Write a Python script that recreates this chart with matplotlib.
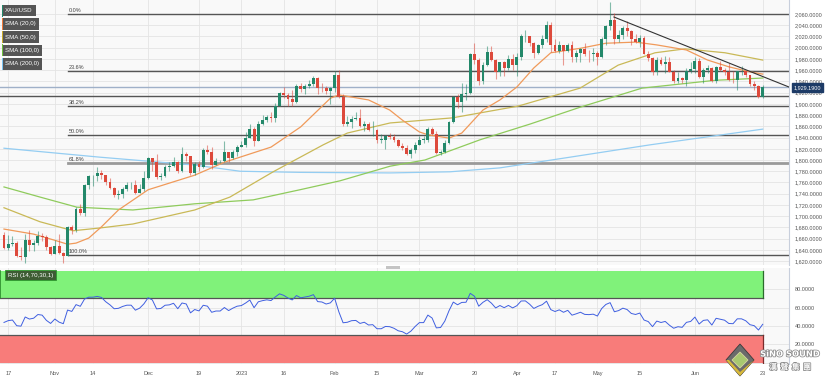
import matplotlib
matplotlib.use("Agg")
import matplotlib.pyplot as plt
import matplotlib.patches as mpatches
import matplotlib.patheffects as pe

# daily XAU/USD candles, 14 Oct 2022 .. 23 Jun 2023 (index = trading day)
first_open = 1666
close = [1644, 1650, 1652, 1629, 1627, 1657, 1649, 1652, 1665, 1663, 1645, 1633,
         1647, 1635, 1629, 1681, 1676, 1712, 1706, 1755, 1771, 1771, 1777, 1774, 1761, 1751, 1738, 1740, 1749, 1755, 1755, 1741, 1749, 1768,
         1803, 1797, 1769, 1771, 1787, 1789, 1797, 1781, 1810, 1807, 1777, 1793, 1788, 1817, 1814, 1792, 1798, 1798, 1814, 1804, 1815, 1824,
         1827, 1839, 1855, 1833, 1865, 1872, 1877, 1875, 1897, 1920, 1916, 1909, 1904, 1932, 1926, 1931, 1936, 1946, 1929, 1928, 1923, 1928,
         1951, 1912, 1865, 1867, 1873, 1874, 1861, 1865, 1853, 1854, 1836, 1836, 1842, 1841, 1835, 1825, 1821, 1811, 1817, 1827,
         1836, 1836, 1855, 1847, 1813, 1814, 1831, 1868, 1913, 1904, 1918, 1919, 1989, 1979, 1940, 1970, 1993, 1978, 1956, 1974, 1964, 1980, 1969,
         1984, 2020, 2021, 2008, 1990, 2004, 2015, 2040, 2004, 1995, 2005, 1994, 2005, 1983, 1990, 1998, 1989, 1988, 1990,
         1983, 2016, 2039, 2050, 2016, 2022, 2035, 2030, 2015, 2011, 2017, 1989, 1982, 1957, 1978, 1971, 1975, 1957, 1941, 1946, 1943, 1959, 1962,
         1977, 1948, 1961, 1963, 1940, 1965, 1961, 1957, 1943, 1942, 1958, 1958, 1951, 1936, 1932, 1913, 1929.19]
high = [1671, 1667, 1664, 1656, 1645, 1669, 1675, 1657, 1674, 1670, 1666, 1647,
        1658, 1669, 1636, 1682, 1685, 1716, 1722, 1758, 1773, 1774, 1787, 1782, 1774, 1768, 1752, 1746, 1752, 1760, 1761, 1764, 1757, 1780,
        1805, 1804, 1810, 1776, 1791, 1796, 1806, 1798, 1824, 1814, 1808, 1797, 1798, 1822, 1826, 1823, 1804, 1800, 1833, 1814, 1818, 1826,
        1834, 1850, 1865, 1858, 1870, 1881, 1881, 1886, 1902, 1922, 1930, 1920, 1925, 1935, 1937, 1935, 1943, 1949, 1948, 1938, 1932, 1930,
        1958, 1960, 1918, 1878, 1879, 1886, 1890, 1870, 1868, 1869, 1855, 1846, 1844, 1848, 1847, 1837, 1830, 1827, 1822, 1832,
        1843, 1843, 1858, 1858, 1852, 1818, 1835, 1870, 1914, 1917, 1937, 1935, 1990, 2009, 1981, 1974, 2003, 2003, 1980, 1975, 1976, 1987, 1988,
        1990, 2025, 2032, 2021, 2010, 2007, 2023, 2048, 2046, 2015, 2012, 2005, 2009, 2012, 1996, 2000, 2009, 1996, 1999,
        1994, 2019, 2041, 2081, 2062, 2031, 2038, 2048, 2032, 2025, 2022, 2021, 1994, 1983, 1984, 1984, 1985, 1983, 1961, 1957, 1948, 1964, 1974,
        1983, 1982, 1964, 1969, 1966, 1967, 1976, 1964, 1972, 1959, 1959, 1968, 1958, 1951, 1940, 1934, 1933]
low = [1641, 1640, 1646, 1627, 1622, 1617, 1638, 1638, 1648, 1655, 1640, 1630,
       1632, 1632, 1616, 1629, 1668, 1672, 1702, 1701, 1749, 1754, 1763, 1767, 1755, 1748, 1735, 1731, 1733, 1745, 1748, 1739, 1741, 1745,
       1766, 1781, 1767, 1765, 1769, 1781, 1787, 1776, 1778, 1799, 1773, 1774, 1781, 1786, 1810, 1784, 1791, 1795, 1797, 1796, 1802, 1808,
       1823, 1824, 1839, 1825, 1833, 1863, 1867, 1868, 1867, 1896, 1911, 1897, 1896, 1902, 1922, 1917, 1929, 1932, 1918, 1922, 1917, 1900,
       1921, 1910, 1861, 1860, 1857, 1871, 1858, 1852, 1852, 1843, 1831, 1830, 1819, 1838, 1832, 1823, 1818, 1809, 1804, 1812,
       1826, 1830, 1832, 1845, 1811, 1809, 1812, 1829, 1866, 1892, 1886, 1907, 1918, 1971, 1934, 1935, 1967, 1976, 1945, 1949, 1949, 1961, 1960,
       1949, 1979, 2011, 2003, 1981, 1988, 1999, 2010, 1993, 1992, 1991, 1969, 1992, 1975, 1975, 1975, 1985, 1975, 1976,
       1969, 1981, 2004, 2032, 2006, 2011, 2015, 2021, 2005, 2008, 2001, 1988, 1976, 1952, 1951, 1969, 1955, 1956, 1937, 1938, 1937, 1932, 1955,
       1955, 1946, 1938, 1955, 1939, 1938, 1958, 1951, 1940, 1937, 1925, 1952, 1947, 1932, 1925, 1911, 1910]
opens = [first_open] + close[:-1]

# moving averages (candle index, value)
sma20 = [(0, 1677), (7, 1668), (12, 1657), (15, 1650), (17, 1652), (20, 1661), (23, 1681), (27, 1711), (34, 1747),
         (45, 1773), (52, 1796), (63, 1823), (70, 1859), (77, 1910), (79, 1916), (86, 1907), (91, 1889), (94, 1871),
         (98, 1850), (100, 1845), (105, 1839), (108, 1848), (113, 1889), (117, 1907), (121, 1930), (125, 1964),
         (129, 1991), (136, 1999), (142, 2008), (149, 2010), (154, 2005), (161, 1996), (166, 1978), (171, 1966),
         (176, 1957), (179, 1953)]
sma50 = [(0, 1715), (8.5, 1690), (16.3, 1674), (22.7, 1679), (30.4, 1686), (45, 1711), (53.3, 1734), (63.5, 1779),
         (75.3, 1827), (81, 1848), (91.1, 1866), (105.7, 1875), (121.3, 1896), (135.9, 1928), (144.9, 1969),
         (153.6, 1991), (160.7, 1998), (170.1, 1991), (179, 1978)]
sma100 = [(0, 1752), (8.5, 1734), (17.2, 1716), (30.4, 1711), (45, 1722), (58.8, 1729), (69.8, 1747), (79.3, 1763),
          (91.1, 1789), (99.3, 1800), (112.3, 1836), (124.1, 1864), (135.9, 1894), (150.5, 1928), (167.8, 1942), (179, 1946)]
sma200 = [(0, 1821), (22.7, 1805), (45, 1791), (55.7, 1780), (69.8, 1778), (91.1, 1777), (105.2, 1779), (117, 1786),
          (133.5, 1805), (152.4, 1827), (179, 1855)]

fib_hi, fib_lo, fib_start = 2060, 1630.8, 15
fib_levels = [0.0, 23.6, 38.2, 50.0, 61.8, 100.0]
last_price = 1929.19
support = 1914.5
trend = [(143.9, 2054.7), (185.2, 1930)]

# RSI(14) seed before the first candle
prev_close, seed_gain, seed_loss = 1666, 6.0, 6.0

tick_idx = [1, 12, 21, 34, 46, 56, 66, 78, 88, 98, 111, 121, 130, 140, 150, 163, 179]
tick_lbl = ["17", "Nov", "14", "Dec", "19", "2023", "16", "Feb", "15", "Mar", "20", "Apr", "17", "May", "15", "Jun", "23"]

W, H = 826, 379
fig = plt.figure(figsize=(W / 100, H / 100), dpi=100)
fig.patch.set_facecolor("white")
FONT = "Liberation Sans"
FS = 4.0


def fr(x0, y0, x1, y1):
    return [x0 / W, 1 - y1 / H, (x1 - x0) / W, (y1 - y0) / H]


xlim = (-0.94, 185.2)
ax = fig.add_axes(fr(0, 0, 789, 265))
rx = fig.add_axes(fr(0, 268, 789, 364))
for a in (ax, rx):
    a.set_facecolor("#f9f9f9")
    a.set_xlim(*xlim)
    for s in ("top", "left", "bottom"):
        a.spines[s].set_visible(False)
    a.spines["right"].set_color("#c8cfdc")
    a.spines["right"].set_linewidth(0.8)
    a.yaxis.tick_right()
    a.tick_params(length=0, labelsize=FS, labelcolor="#555555", pad=4)
    a.set_xticks(tick_idx)
    a.grid(True, color="#e4e4e4", lw=0.6)
    a.set_axisbelow(True)

ax.set_ylim(1613, 2085)
ax.set_yticks(range(1620, 2061, 20))
ax.set_yticklabels([f"{v:,.4f}" for v in range(1620, 2061, 20)], fontfamily=FONT)
ax.set_xticklabels([])

# horizontal reference lines
ax.axhline(support, color="#555555", lw=1.0, zorder=2)
ax.axhline(last_price, color="#9fb0c8", lw=1.0, zorder=2)
for lv in fib_levels:
    p = fib_hi - (fib_hi - fib_lo) * lv / 100
    if lv == 61.8:
        ax.plot([fib_start, xlim[1]], [p, p], color="#9a9a9a", lw=2.0, zorder=2)
    else:
        ax.plot([fib_start, xlim[1]], [p, p], color="#555555", lw=1.0, zorder=2)
    ax.text(fib_start + 0.2, p + 1.5, f"{lv:.1f}%", fontsize=FS, color="#444444",
            fontfamily=FONT, va="bottom", ha="left", zorder=3)

# moving averages
for pts, col in ((sma200, "#94cdf2"), (sma100, "#8fcb5c"), (sma50, "#c9b957"), (sma20, "#f09a5a")):
    ax.plot([p[0] for p in pts], [p[1] for p in pts], color=col, lw=0.9, zorder=3)

# candles
up_c, dn_c = "#23886a", "#dd4a3c"
for i in range(len(close)):
    o, c = opens[i], close[i]
    col = up_c if c >= o else dn_c
    ax.vlines(i, low[i], high[i], color=col, lw=0.8, alpha=0.55, zorder=4)
    ax.bar(i, max(abs(c - o), 0.9), bottom=min(o, c), width=0.68, color=col, lw=0, zorder=5)

# trend line
ax.plot([trend[0][0], trend[1][0]], [trend[0][1], trend[1][1]], color="#333333", lw=0.8, zorder=6)

# current price tag
ax.annotate(f"{last_price:,.4f}", xy=(1.0, last_price), xycoords=("axes fraction", "data"),
            xytext=(3.5, 0), textcoords="offset points", fontsize=FS, color="white",
            fontfamily=FONT, va="center", ha="left", annotation_clip=False,
            bbox=dict(boxstyle="square,pad=0.3", fc="#1d3b66", ec="#1d3b66"), zorder=10)

# RSI panel
rsi = []
g_avg, l_avg, pc = seed_gain, seed_loss, prev_close
for c in close:
    ch = c - pc
    g_avg = (g_avg * 13 + max(ch, 0)) / 14
    l_avg = (l_avg * 13 + max(-ch, 0)) / 14
    rsi.append(100 - 100 / (1 + g_avg / l_avg))
    pc = c

rx.set_ylim(-1.5, 103.2)
rx.set_yticks([0, 20, 40, 60, 80])
rx.set_yticklabels(["", "20.0000", "40.0000", "60.0000", "80.0000"], fontfamily=FONT)
rx.set_xticklabels(tick_lbl, fontfamily=FONT)
rx.tick_params(axis="x", pad=5)
last = len(close) - 1
rx.add_patch(mpatches.Rectangle((xlim[0], 70), last - xlim[0], 30, fc="#80f27a", ec="none", zorder=1))
rx.add_patch(mpatches.Rectangle((xlim[0], 0), last - xlim[0], 30, fc="#f87c7a", ec="none", zorder=1))
rx.plot([xlim[0], last], [70, 70], color="#555555", lw=0.9, zorder=2)
rx.plot([xlim[0], last], [30, 30], color="#555555", lw=0.9, zorder=2)
rx.plot([last, last], [70, 100], color="#2c6b2c", lw=0.9, zorder=2)
rx.plot([last, last], [0, 30], color="#7a2b2b", lw=0.9, zorder=2)
rx.plot([xlim[0] + 0.1, xlim[0] + 0.1], [70, 100], color="#2c8b2c", lw=1.2, zorder=2)
rx.plot(range(len(rsi)), rsi, color="#3f5fe0", lw=0.7, zorder=3)
rx.text(0.9, 95.5, "RSI (14,70,30,1)", fontsize=FS + 0.4, color="white", fontfamily=FONT, va="center", ha="left",
        bbox=dict(boxstyle="square,pad=0.45", fc="#3d5c33", ec="#2e9a2e", lw=0.6), zorder=6)

# legend chips
chips = [("XAU/USD", "#23886a"), ("SMA (20,0)", "#f07a3a"), ("SMA (50,0)", "#c9a928"),
         ("SMA (100,0)", "#6cc13c"), ("SMA (200,0)", "#7cc4f2")]
for k, (lbl, col) in enumerate(chips):
    y = 10.5 + k * 13.3
    fig.text(5 / W, 1 - y / H, lbl, fontsize=FS + 0.4, color="white", fontfamily=FONT, va="center", ha="left",
             bbox=dict(boxstyle="square,pad=0.55", fc="#555555", ec="none"), zorder=20)
    fig.patches.append(mpatches.Rectangle((1.5 / W, 1 - (y + 6) / H), 1.6 / W, 12 / H,
                                          transform=fig.transFigure, fc=col, ec="none", zorder=21))

# panel separator handle
fig.patches.append(mpatches.Rectangle((386 / W, 1 - 269 / H), 14 / W, 3 / H, transform=fig.transFigure,
                                      fc="#c4c4c4", ec="none", zorder=20))


# watermark logo
def P(x, y):
    return (x / W, 1 - y / H)


fig.patches.append(mpatches.Polygon([P(740, 344), P(754, 360), P(740, 376), P(726, 360)], closed=True,
                                    transform=fig.transFigure, fc="#6b6b6b", ec="#3a3a3a", lw=0.6, zorder=20))
fig.patches.append(mpatches.Polygon([P(726, 360), P(740, 376), P(754, 360), P(740, 372), P(729, 360)], closed=True,
                                    transform=fig.transFigure, fc="#d8b93a", ec="none", zorder=21))
fig.patches.append(mpatches.Polygon([P(740, 352), P(748, 360), P(740, 368), P(732, 360)], closed=True,
                                    transform=fig.transFigure, fc="#a8c870", ec="#d7d7a0", lw=0.6, zorder=22))
stroke = [pe.withStroke(linewidth=1.1, foreground="#8a8a8a")]
fig.text(790 / W, 1 - 354 / H, "SiNO SOUND", fontsize=6.0, fontweight="bold", color="white", fontfamily="DejaVu Sans",
         ha="center", va="center", path_effects=stroke, zorder=23)
fig.text(790 / W, 1 - 367 / H, "漢  聲  集  團", fontsize=5.6, color="white", fontweight="bold",
         fontfamily=["Noto Sans CJK TC", "DejaVu Sans"], ha="center", va="center", path_effects=stroke, zorder=23)

fig.savefig("out.png", dpi=100)
